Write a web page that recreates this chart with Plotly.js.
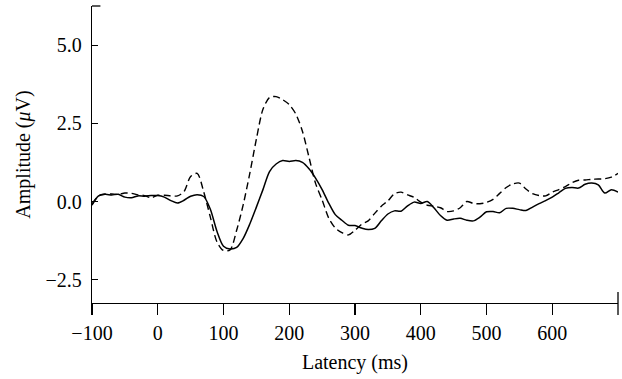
<!DOCTYPE html>
<html>
<head>
<meta charset="utf-8">
<script src="https://cdn.plot.ly/plotly-3.0.1.min.js"></script>
<style>html,body{margin:0;padding:0;background:#fff;}#chart{width:622px;height:379px;}</style>
</head>
<body>
<div id="chart"></div>
<script>
// Latency axis (ms)
const latency = [-100,-90,-80,-70,-60,-50,-40,-30,-20,-10,0,10,20,30,40,50,60,70,80,90,100,110,120,130,140,150,160,170,180,190,200,210,220,230,240,250,260,270,280,290,300,310,320,330,340,350,360,370,380,390,400,410,420,430,440,450,460,470,480,490,500,510,520,530,540,550,560,570,580,590,600,610,620,630,640,650,660,670,680,690,700];
// Solid curve amplitudes (µV)
const solidAmp = [-0.12,0.18,0.23,0.21,0.23,0.14,0.12,0.18,0.17,0.19,0.19,0.14,0.03,-0.05,0.04,0.17,0.22,0.16,-0.25,-0.95,-1.43,-1.52,-1.47,-1.18,-0.72,-0.18,0.38,0.96,1.2,1.31,1.28,1.31,1.25,1.05,0.75,0.38,-0.05,-0.42,-0.6,-0.76,-0.77,-0.85,-0.9,-0.86,-0.62,-0.4,-0.3,-0.31,-0.14,-0.02,-0.06,0.0,-0.2,-0.45,-0.6,-0.56,-0.54,-0.6,-0.62,-0.5,-0.33,-0.32,-0.36,-0.22,-0.22,-0.26,-0.29,-0.18,-0.07,0.03,0.14,0.28,0.42,0.45,0.43,0.55,0.59,0.53,0.27,0.38,0.3];
// Dashed curve amplitudes (µV)
const dashedAmp = [-0.08,0.18,0.24,0.24,0.23,0.27,0.26,0.21,0.19,0.12,0.2,0.2,0.18,0.18,0.32,0.8,0.9,0.3,-0.5,-1.29,-1.57,-1.55,-0.92,-0.1,0.9,2.0,2.95,3.33,3.36,3.26,3.1,2.8,2.25,1.42,0.58,0.05,-0.53,-0.85,-1.0,-1.07,-0.92,-0.73,-0.62,-0.38,-0.15,0.02,0.25,0.3,0.21,0.13,-0.02,-0.12,-0.15,-0.2,-0.32,-0.3,-0.2,0.0,-0.06,-0.07,-0.03,0.07,0.26,0.45,0.56,0.59,0.4,0.25,0.19,0.18,0.3,0.38,0.48,0.6,0.68,0.69,0.71,0.72,0.73,0.78,0.9];
// Tick labels
const xTicks = [-100,0,100,200,300,400,500,600];
const yTicks = [-2.5,0,2.5,5];

const font = {family: '"Liberation Serif", "DejaVu Serif", serif', size: 20, color: '#000'};

const traces = [
  {x: latency, y: solidAmp, mode: 'lines', line: {color: '#000', width: 1.5, shape: 'spline', smoothing: 0.8}, hoverinfo: 'skip'},
  {x: latency, y: dashedAmp, mode: 'lines', line: {color: '#000', width: 1.4, dash: '7px,4px', shape: 'spline', smoothing: 0.8}, hoverinfo: 'skip'}
];

const layout = {
  width: 622, height: 379,
  margin: {l: 92, r: 4, t: 6, b: 76},
  paper_bgcolor: '#fff', plot_bgcolor: '#fff',
  showlegend: false,
  font: font,
  xaxis: {
    range: [-100, 700], showgrid: false, zeroline: false,
    showline: true, linecolor: '#000', linewidth: 1.3,
    ticks: 'outside', ticklen: 11, tickwidth: 1.3, tickcolor: '#000',
    tickvals: xTicks, tickfont: font, ticklabelstandoff: 1,
    title: {text: 'Latency (ms)', font: font, standoff: 11},
    automargin: false
  },
  yaxis: {
    range: [-3.25, 6.26], showgrid: false, zeroline: false,
    showline: true, linecolor: '#000', linewidth: 1.3,
    ticks: 'inside', ticklen: 6, tickwidth: 1.3, tickcolor: '#000',
    tickvals: yTicks, tickformat: '.1f', tickfont: font, ticklabelstandoff: 5,
    title: {text: 'Amplitude (<i>μ</i>V)', font: font, standoff: 9},
    automargin: false
  },
  shapes: [
    {type: 'line', xref: 'paper', yref: 'paper', x0: 0, x1: 0.016, y0: 1, y1: 1, line: {color: '#000', width: 1.3}},
    {type: 'line', xref: 'paper', yref: 'paper', x0: 1, x1: 1, y0: -0.04, y1: 0.037, line: {color: '#000', width: 1.3}}
  ]
};

Plotly.newPlot('chart', traces, layout, {displayModeBar: false, staticPlot: true});
</script>
</body>
</html>
